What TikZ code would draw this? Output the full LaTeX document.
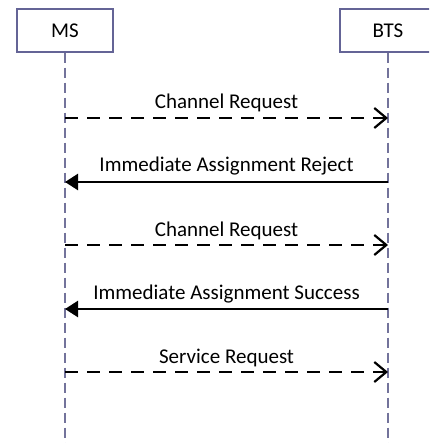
\documentclass[tikz,border=0pt]{standalone}
\usepackage{fontspec}
\setmainfont{Carlito}
\usetikzlibrary{arrows.meta}
\definecolor{boxline}{RGB}{100,100,150}
\definecolor{lifeline}{RGB}{115,115,155}
\tikzset{
  actor/.style={draw=boxline, line width=1.4pt, fill=white, minimum width=96pt, minimum height=43pt, inner sep=0pt, font=\fontsize{21}{25}\selectfont},
  life/.style={draw=lifeline, line width=1.2pt, dash pattern=on 10pt off 5pt},
  req/.style={line width=2.5pt, dash pattern=on 13pt off 9pt, -{Straight Barb[length=12pt,width=20pt,line width=2.2pt]}},
  resp/.style={line width=2.5pt, -{Triangle[length=13pt,width=16pt]}},
  lbl/.style={anchor=base, inner sep=0pt, font=\fontsize{21}{25}\selectfont}
}
\begin{document}
\begin{tikzpicture}[x=1pt,y=-1pt]
\useasboundingbox (0,0) rectangle (429,443);
\begin{scope}
\clip (0,0) rectangle (429,443);
\node[actor] (ms) at (65,30.5) {MS};
\node[actor] (bts) at (388,30.5) {BTS};
\coordinate (msend) at (65,443);
\coordinate (btsend) at (388,443);
\draw[life] (ms.south) -- (msend);
\draw[life] (bts.south) -- (btsend);
\end{scope}
% message endpoints
\coordinate (a1) at (65,118);  \coordinate (b1) at (388,118);
\coordinate (a2) at (65,182);  \coordinate (b2) at (388,182);
\coordinate (a3) at (65,245);  \coordinate (b3) at (388,245);
\coordinate (a4) at (65,309);  \coordinate (b4) at (388,309);
\coordinate (a5) at (65,372);  \coordinate (b5) at (388,372);
\draw[req] (a1) -- (b1) node[lbl, midway, yshift=9pt] (l1) {Channel Request};
\draw[resp] (b2) -- (a2) node[lbl, midway, yshift=10pt] (l2) {Immediate Assignment Reject};
\draw[req] (a3) -- (b3) node[lbl, midway, yshift=9pt] (l3) {Channel Request};
\draw[resp] (b4) -- (a4) node[lbl, midway, yshift=10pt] (l4) {Immediate Assignment Success};
\draw[req] (a5) -- (b5) node[lbl, midway, yshift=9pt] (l5) {Service Request};
\end{tikzpicture}
\end{document}
